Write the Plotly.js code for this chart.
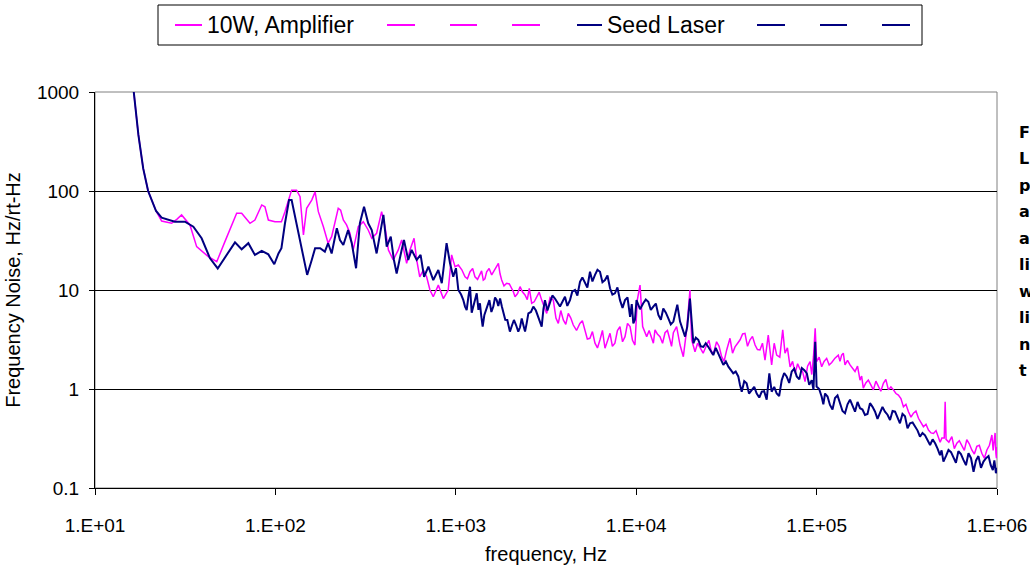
<!DOCTYPE html>
<html>
<head>
<meta charset="utf-8">
<script src="https://cdn.plot.ly/plotly-3.0.1.min.js"></script>
<style>html,body{margin:0;padding:0;background:#fff;}#chart{width:1030px;height:571px;}</style>
</head>
<body>
<div id="chart"></div>
<script>
// ---- data ----
const ampName = "10W, Amplifier";
const seedName = "Seed Laser";

// main trace readings
const ampFreq = [16.0,16.4,17.4,18.5,19.7,21.8,23.4,26.6,28.5,30.2,33.6,36.6,42.5,47.3,52.5,61,65,72.3,77,84,87.5,91.4,99.5,108,113,123,131,137,143,149,159,166,173,184.5,196,205,223,230,238,248,259,270,288,307,327,342,364,388,405,423,450,480,501,534,557,587,607,631,661,689,719,750,800,853,908,948,990,1033,1125,1199,1277,1361,1420,1483,1581,1722,1796,1914,2040,2129,2270,2419,2555,2634,2809,2993,3190,3472,3700,3944,4203,4479,4874,5195,5540,5910,6300,6714,7160,7620,8128,8670,9247,9840,10140,10500,10860,11430,12190,12710,13550,14450,15380,16070,16750,17500,18250,19040,19860,20290,21180,22590,24570,26200,27900,29760,31740,33110,35300,37670,40090,42760,45600,48530,51760,53950,56340,60090,64890,66800,71290,76030,80930,86300,92000,96100,98200,100000,106700,113700,121300,131900,137700,143700,153200,163300,174000,181500,193500,206400,220000,234500,250000,266700,284000,303000,323000,344300,367000,391000,417000,444700,474000,494800,510000,516000,522000,562000,599000,638000,680000,725000,773000,824000,879000,937000,966000,986000,1000000];
const ampNoise = [1650,1000,368,169,100,62.8,49.8,47.2,52,57.3,45.4,27.4,21.7,19.3,30.8,59.6,59.6,47.2,50.9,72.3,69.3,50.9,49,49,61.8,102,102,87.5,36,66.8,81,98,61.8,43.6,29.7,34.6,66.8,64,50.9,45.4,37.4,25.4,43.6,49,40.4,33.3,37.4,61.8,43.6,25.4,20.1,25.4,32,18.6,25.4,33.3,20.1,13.6,15.9,13.6,10,8.55,11.2,8.2,10,22.6,17.2,17.9,13.6,15.3,13.6,14.2,12.6,15.3,14.2,18.6,12.6,11.7,10.4,8.55,10.8,8.9,10.4,7.35,8.55,7.9,5.8,7.9,4.6,4.98,5.8,4.43,4.6,3.95,3.25,2.9,3.14,2.58,3.65,2.9,4.27,3.38,4.27,2.78,7.9,11.2,4.27,3.38,3.14,3.95,3.38,3.7,3.14,3.7,4.27,2.78,2.12,3.95,10,3.14,2.38,2.58,2.78,2.3,3.0,2.12,2.48,3.25,2.66,3.14,3.65,3.14,2.78,2.48,1.96,3.5,1.75,2.2,3.95,2.3,1.67,1.44,1.58,1.19,1.89,2.12,4.1,1.89,1.68,2.04,1.85,2.2,2.2,1.75,1.75,1.5,1.23,1.02,1.23,0.98,1.06,1.14,0.98,0.98,0.87,0.66,0.59,0.57,0.506,0.416,0.385,0.356,0.33,0.32,0.32,0.745,0.31,0.33,0.283,0.263,0.307,0.242,0.263,0.224,0.242,0.343,0.307,0.224,0.26];
// finer jitter readings in the noisy stretches
const ampFreqFine = [1080,1160,1240,1320,1390,1450,1530,1650,1760,1850,1980,2085,2200,2340,2490,2590,2720,2900,3090,3330,3590,3820,4070,4340,4670,5030,5360,5720,6100,6500,6930,7380,7870,8400,8950,9540,11800,12450,13100,14000,14900,15700,21900,23500,25300,27000,28800,30700,32400,34200,36500,38900,41400,44100,47000,50100,55100,58200,62500,68900,73600,78500,83600,89100,94000,103300,110000,117400,126400,134800,140600,148400,158200,168600,177700,187400,199800,213100,227000,242000,258200,275200,293400,312800,333500,355400,378800,404000,430700,459200,484000,541000,580000,618000,659000,702000,749000,798000,851000,908000,952000,976000,993000];
const ampNoiseFine = [16,13,16.5,12.8,15.6,13,16.5,16,14.5,11,11.5,9.6,9.2,9.6,8.0,9.0,7.6,9.5,6.6,8.4,5.2,6.2,4.5,5.2,3.9,4.9,3.2,3.8,2.6,3.9,3.1,2.7,3.9,3.0,4.6,3.1,3.9,2.9,3.6,2.9,3.9,2.7,2.9,2.3,3.1,2.4,2.7,1.9,2.9,2.3,2.9,3.6,2.7,3.4,2.5,2.9,2.4,2.9,2.1,2.6,1.9,1.8,1.5,1.7,1.4,2.1,1.9,1.75,2.05,1.9,2.3,1.95,1.6,1.7,1.35,1.15,1.1,1.2,0.95,1.25,1.05,0.9,0.8,0.7,0.52,0.6,0.46,0.44,0.36,0.38,0.29,0.29,0.25,0.3,0.24,0.28,0.22,0.27,0.2,0.27,0.24,0.36,0.2];

const seedFreq = [16.0,16.4,17.4,18.5,19.7,21.8,23.4,27.7,31.5,35.1,39,43.4,47.9,53.7,59.7,65,70.8,77,84,91.4,98.6,104,108,113,119,123,128,137,143,150,159,166,177,188,196,205,219,228,238,253,265,280,294,310,327,342,364,380,397,414,436,454,470,501,516,545,569,607,638,667,705,750,800,836,889,929,968,1002,1033,1101,1149,1199,1250,1306,1361,1409,1470,1535,1614,1686,1760,1834,1930,1995,2100,2220,2320,2420,2525,2690,2866,2993,3120,3325,3545,3780,4030,4295,4580,4880,5195,5545,5910,6300,6714,7160,7620,8130,8670,9250,9640,10040,10940,11670,12440,13270,14130,15070,16070,16900,17500,18660,19190,19860,20740,22090,23550,25120,26750,28510,30410,32430,34510,36810,38460,40930,43650,46560,49660,52880,54700,56340,60090,64100,68200,72800,77600,82800,88300,94000,96100,98200,100000,106700,111400,118600,126500,134900,143700,153200,163300,174000,185400,197700,210900,224400,239300,255300,272300,289700,309000,329600,351600,374100,399000,425600,453900,483100,504700,538300,574100,610900,651600,695000,741300,788900,841400,897500,948400,986300,1000000];
const seedNoise = [1650,1000,368,169,100,62.8,53.7,49,49,43.6,33.3,20.9,16.5,22.6,30.3,25.8,29.7,22.6,24.8,22.9,18.2,23.4,26.4,47.2,81,81,57.3,30.8,21.7,14.2,20.1,26.4,26.4,24.4,29.7,23.4,42,32,28.5,40.4,29.7,16.6,47.2,69.5,47.2,40.4,23.4,37.4,57.3,27.4,34.6,20.1,14.7,25.4,32,20.1,25.4,20.1,22.6,13.6,17.2,12.6,15.9,11.7,29.7,18.6,13.6,16.6,10,7.9,6.28,10.8,6.8,9.25,7.35,4.27,6.28,7.9,6.8,7.9,8.2,5.8,4.98,3.8,4.98,3.8,5.17,3.8,5.8,6.8,5.36,4.27,7.9,7.35,8.2,6.8,8.55,7.9,10,12.1,11.7,15.3,14.2,15.3,12.6,10.4,9.25,7.9,7.9,5.36,4.6,7.9,7.35,7.6,6.8,5.6,6.5,5.17,4.8,7.1,4.8,3.38,4.27,8.2,2.9,3.14,2.66,2.66,2.2,2.3,1.75,1.68,1.44,1.34,0.94,1.14,0.98,0.9,0.94,0.78,1.44,0.94,0.9,1.23,1.34,1.5,1.34,1.63,1.44,1.23,0.98,3.0,1.06,0.835,0.9,0.69,0.81,0.72,0.57,0.78,0.59,0.64,0.546,0.72,0.59,0.57,0.59,0.486,0.59,0.45,0.53,0.45,0.416,0.33,0.34,0.272,0.283,0.215,0.185,0.242,0.2,0.235,0.192,0.224,0.146,0.21,0.185,0.21,0.152,0.141,0.16];
const seedFreqFine = [1070,1125,1175,1225,1280,1335,1385,1440,1500,1575,1650,1720,1800,1880,1960,2050,2160,2270,2370,2470,2610,2780,2930,3060,3220,3430,3660,3900,4150,4420,4720,5030,5360,5720,6100,6500,6930,7380,7870,8400,8950,9450,9840,10500,11300,12050,12850,13700,14600,15550,16480,21400,22800,24300,25900,27600,29400,31400,33500,35600,37600,39700,42200,45100,48100,51200,58200,62000,66100,70500,75200,80200,85500,91000,103300,109000,115000,122500,130600,139200,148400,158200,168600,179600,191500,204200,217600,231800,247200,263700,281000,299300,319200,340500,362900,386400,412300,439700,468300,493000,521000,556000,592000,631000,673000,718000,765000,815000,869000,923000,967000];
const seedNoiseFine = [9.0,6.8,8.6,5.9,8.1,6.3,5.4,5.6,7.0,6.0,8.4,6.9,6.8,5.0,4.3,4.4,4.4,4.2,4.4,4.6,6.0,6.2,4.9,6.4,6.2,8.8,7.4,7.6,6.9,9.6,8.8,13.4,10.6,12.2,16.0,12.0,14.0,9.0,10.6,6.6,8.4,7.2,5.0,6.4,8.0,6.3,7.3,5.0,5.9,4.5,5.8,3.3,2.7,2.9,2.4,2.6,2.0,1.9,1.55,1.5,1.1,1.2,0.9,1.05,0.82,0.95,1.05,0.85,1.45,1.15,1.6,1.25,1.55,1.1,1.0,0.7,0.84,0.62,0.86,0.6,0.7,0.66,0.74,0.62,0.56,0.66,0.5,0.66,0.55,0.6,0.52,0.56,0.4,0.46,0.38,0.36,0.3,0.31,0.25,0.24,0.21,0.23,0.18,0.22,0.17,0.2,0.19,0.16,0.2,0.17,0.19];

const xTickVals = [10,100,1000,10000,100000,1000000];
const xTickText = ["1.E+01","1.E+02","1.E+03","1.E+04","1.E+05","1.E+06"];
const yTickVals = [0.1,1,10,100,1000];
const yTickText = ["0.1","1","10","100","1000"];
// side caption letters visible at the right edge of the reference
const sideText = ["F","L","p","a","a","li","w","li","n","t"];

// merge coarse + fine readings, ordered by frequency
function mergeSeries(f1, v1, f2, v2) {
  const pts = f1.map((f, i) => [f, v1[i]]).concat(f2.map((f, i) => [f, v2[i]]));
  pts.sort((a, b) => a[0] - b[0]);
  return {x: pts.map(p => p[0]), y: pts.map(p => p[1])};
}
const amp = mergeSeries(ampFreq, ampNoise, ampFreqFine, ampNoiseFine);
const seed = mergeSeries(seedFreq, seedNoise, seedFreqFine, seedNoiseFine);

// ---- layout helpers (pixel -> paper) ----
const L = 95, R = 997, T = 92, B = 488;
const PX = x => (x - L) / (R - L);
const PY = y => (B - y) / (B - T);

const ampColor = "#FF00FF", seedColor = "#000080";
const FONT = "Liberation Sans, Arial, sans-serif";

const traces = [
  {x: amp.x, y: amp.y, type: "scatter", mode: "lines", name: ampName,
   line: {color: ampColor, width: 1.5}, showlegend: false},
  {x: seed.x, y: seed.y, type: "scatter", mode: "lines", name: seedName,
   line: {color: seedColor, width: 2}, showlegend: false}
];

const shapes = [
  {type: "rect", xref: "paper", yref: "paper", x0: 0, x1: 1, y0: 0, y1: 1,
   line: {color: "#808080", width: 1}, layer: "below"},
  {type: "rect", xref: "paper", yref: "paper", x0: PX(158), x1: PX(922), y0: PY(45), y1: PY(5),
   line: {color: "#000", width: 1}, fillcolor: "#fff"}
];
const legendSwatches = [
  [175, 202, ampColor], [387, 415, ampColor], [450, 477, ampColor], [512, 540, ampColor],
  [577, 602, seedColor], [757, 785, seedColor], [820, 847, seedColor], [882, 910, seedColor]
];
legendSwatches.forEach(s => shapes.push({type: "line", xref: "paper", yref: "paper",
  x0: PX(s[0]), x1: PX(s[1]), y0: PY(25), y1: PY(25), line: {color: s[2], width: 2}}));

const annotations = [
  {text: ampName, xref: "paper", yref: "paper", x: PX(205), y: PY(25), xanchor: "left", yanchor: "middle",
   showarrow: false, font: {family: FONT, size: 23, color: "#000"}},
  {text: seedName, xref: "paper", yref: "paper", x: PX(605), y: PY(25), xanchor: "left", yanchor: "middle",
   showarrow: false, font: {family: FONT, size: 23, color: "#000"}}
];
sideText.forEach((t, i) => annotations.push({text: "<b>" + t + "</b>", xref: "paper", yref: "paper",
  x: PX(1017), y: PY(132.5 + 26.45 * i), xanchor: "left", yanchor: "middle", showarrow: false,
  font: {family: "DejaVu Sans, Verdana, sans-serif", size: 16, color: "#000"}}));

const layout = {
  width: 1030, height: 571,
  margin: {l: L, r: 1030 - R, t: T, b: 571 - B, pad: 0},
  paper_bgcolor: "#fff", plot_bgcolor: "#fff",
  font: {family: FONT, size: 19, color: "#000"},
  showlegend: false,
  xaxis: {type: "log", range: [1, 6], tickvals: xTickVals, ticktext: xTickText,
    showgrid: false, zeroline: false, showline: true, linecolor: "#000", linewidth: 1,
    ticks: "outside", ticklen: 6, tickcolor: "#000", ticklabelstandoff: 14,
    tickfont: {family: FONT, size: 19, color: "#000"},
    title: {text: "frequency, Hz", font: {family: FONT, size: 20, color: "#000"}, standoff: 12}},
  yaxis: {type: "log", range: [-1, 3], tickvals: yTickVals, ticktext: yTickText,
    showgrid: true, gridcolor: "#000", gridwidth: 1, zeroline: false,
    showline: true, linecolor: "#000", linewidth: 1,
    ticks: "outside", ticklen: 5, tickcolor: "#000", ticklabelstandoff: 6,
    tickfont: {family: FONT, size: 19, color: "#000"},
    title: {text: "Frequency Noise, Hz/rt-Hz", font: {family: FONT, size: 20, color: "#000"}, standoff: 10}},
  shapes: shapes,
  annotations: annotations
};

Plotly.newPlot("chart", traces, layout, {staticPlot: true, displayModeBar: false});
</script>
</body>
</html>
